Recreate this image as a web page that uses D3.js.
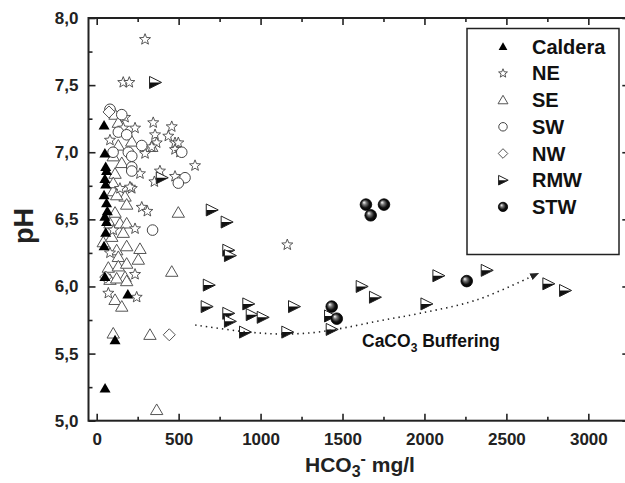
<!DOCTYPE html>
<html>
<head>
<meta charset="utf-8">
<script src="https://cdn.jsdelivr.net/npm/d3@7"></script>
<style>
body { margin: 0; background: #fff; }
text { font-family: Arial, "Liberation Sans", sans-serif; }
</style>
</head>
<body>
<svg id="chart" width="625" height="483"></svg>
<script>
// [HCO3 mg/l, pH]
const caldera = [[45, 7.20], [50, 6.99], [55, 6.89], [60, 6.86], [50, 6.80], [55, 6.76], [45, 6.68], [60, 6.62],
    [65, 6.56], [50, 6.52], [60, 6.48], [55, 6.40], [45, 6.30], [50, 6.07], [190, 5.94], [112, 5.60], [51, 5.24]];
const ne = [[295, 7.84], [162, 7.52], [199, 7.52], [345, 7.22], [356, 7.13], [366, 7.07], [336, 7.04], [295, 6.99],
    [458, 7.19], [437, 7.12], [478, 7.07], [498, 7.07], [478, 7.02], [508, 7.00], [600, 6.90], [478, 6.82],
    [386, 6.86], [352, 6.78], [264, 6.84], [162, 7.18], [234, 7.18], [81, 7.09], [173, 7.26], [214, 6.73],
    [203, 6.74], [275, 6.59], [309, 6.56], [234, 6.43], [81, 6.25], [234, 6.09], [71, 5.95], [244, 5.92],
    [142, 6.73], [101, 6.42], [1163, 6.31]];
const se = [[112, 7.28], [132, 7.22], [214, 7.08], [132, 7.05], [336, 7.04], [101, 6.97], [153, 6.92], [112, 6.84],
    [101, 6.71], [173, 6.67], [101, 6.77], [122, 6.68], [183, 6.61], [112, 6.55], [81, 6.47], [142, 6.47],
    [183, 6.47], [40, 6.33], [92, 6.37], [162, 6.40], [122, 6.27], [183, 6.30], [264, 6.28], [254, 6.20],
    [132, 6.22], [71, 6.14], [132, 6.15], [183, 6.17], [173, 6.07], [81, 6.05], [122, 6.06], [183, 6.04],
    [112, 5.90], [153, 5.85], [101, 5.65], [325, 5.64], [498, 6.55], [458, 6.11], [366, 5.08]];
const sw = [[81, 7.32], [153, 7.28], [132, 7.15], [183, 7.13], [275, 7.05], [193, 7.00], [214, 6.97], [214, 6.89],
    [214, 6.86], [519, 7.00], [539, 6.81], [498, 6.77], [341, 6.42], [100, 7.00]];
const nw = [[75, 7.30], [443, 5.64], [55, 6.07]];
const rmw = [[356, 7.52], [397, 6.81], [702, 6.57], [793, 6.48], [803, 6.27], [813, 6.23], [684, 6.01], [671, 5.85],
    [803, 5.80], [813, 5.74], [925, 5.87], [946, 5.79], [1013, 5.77], [905, 5.66], [1204, 5.85], [1163, 5.66],
    [1434, 5.68], [1617, 6.00], [1698, 5.92], [1424, 5.78], [2012, 5.87], [2085, 6.08], [2380, 6.12],
    [2756, 6.02], [2858, 5.97]];
const stw = [[1643, 6.61], [1753, 6.61], [1672, 6.53], [1434, 5.85], [1465, 5.76], [2258, 6.04]];
const buffering = [[601, 5.713], [905, 5.663], [1119, 5.646], [1320, 5.656], [1503, 5.69], [1729, 5.745],
    [1973, 5.80], [2319, 5.90], [2675, 6.086]];

const xTicks = [0, 500, 1000, 1500, 2000, 2500, 3000];
const xMinor = [250, 750, 1250, 1750, 2250, 2750, 3250];
const yTicks = [5.0, 5.5, 6.0, 6.5, 7.0, 7.5, 8.0];
const yMinor = [5.25, 5.75, 6.25, 6.75, 7.25, 7.75];

const series = [
    { name: 'SE', data: se, type: 'tri' },
    { name: 'NE', data: ne, type: 'star' },
    { name: 'SW', data: sw, type: 'circle' },
    { name: 'NW', data: nw, type: 'diamond' },
    { name: 'Caldera', data: caldera, type: 'filledTri' },
    { name: 'RMW', data: rmw, type: 'rmw' },
    { name: 'STW', data: stw, type: 'stw' }
];
const legendOrder = ['Caldera', 'NE', 'SE', 'SW', 'NW', 'RMW', 'STW'];

const svg = d3.select('#chart');
const x = d3.scaleLinear().domain([-50, 3250]).range([88.5, 629.3]);
const y = d3.scaleLinear().domain([5, 8]).range([420.7, 18]);

const defs = svg.append('defs');
const grad = defs.append('radialGradient').attr('id', 'ball')
    .attr('cx', '50%').attr('cy', '50%').attr('r', '55%').attr('fx', '32%').attr('fy', '30%');
grad.append('stop').attr('offset', '0%').attr('stop-color', '#fff');
grad.append('stop').attr('offset', '30%').attr('stop-color', '#777');
grad.append('stop').attr('offset', '65%').attr('stop-color', '#111');
grad.append('stop').attr('offset', '100%').attr('stop-color', '#000');
defs.append('marker').attr('id', 'arrow')
    .attr('viewBox', '0 0 10 10').attr('refX', 5).attr('refY', 5)
    .attr('markerWidth', 9).attr('markerHeight', 9)
    .attr('orient', 'auto').attr('markerUnits', 'userSpaceOnUse')
    .append('path').attr('d', 'M0,1L10,5L0,9Z').attr('fill', '#222');

function starPath(R, r) {
    const pts = d3.range(10).map(i => {
        const a = -Math.PI / 2 + i * Math.PI / 5;
        const rad = i % 2 ? r : R;
        return [rad * Math.cos(a), rad * Math.sin(a)];
    });
    return 'M' + pts.join('L') + 'Z';
}

function drawMarker(g, type, s) {
    if (type === 'tri') {
        g.append('path').attr('d', `M0,${-6 * s}L${6.2 * s},${4.6 * s}L${-6.2 * s},${4.6 * s}Z`)
            .attr('fill', '#fff').attr('stroke', '#555').attr('stroke-width', 1);
    } else if (type === 'filledTri') {
        g.append('path').attr('d', `M0,${-5.5 * s}L${5.5 * s},${4 * s}L${-5.5 * s},${4 * s}Z`)
            .attr('fill', '#000');
    } else if (type === 'star') {
        g.append('path').attr('d', starPath(5.8 * s, 2.5 * s))
            .attr('fill', '#fff').attr('stroke', '#444').attr('stroke-width', 0.9);
    } else if (type === 'circle') {
        g.append('circle').attr('r', 5.3 * s)
            .attr('fill', '#fff').attr('stroke', '#444').attr('stroke-width', 1);
    } else if (type === 'diamond') {
        g.append('path').attr('d', `M0,${-6 * s}L${6 * s},0L0,${6 * s}L${-6 * s},0Z`)
            .attr('fill', '#fff').attr('stroke', '#555').attr('stroke-width', 1);
    } else if (type === 'rmw') {
        g.append('path').attr('d', `M${-5.5 * s},${-6 * s}L${6.5 * s},0L${-5.5 * s},${6 * s}Z`)
            .attr('fill', '#fff');
        g.append('path').attr('d', `M${-5.5 * s},0L${6.5 * s},0L${-5.5 * s},${6 * s}Z`)
            .attr('fill', '#111');
        g.append('path').attr('d', `M${-5.5 * s},${-6 * s}L${6.5 * s},0L${-5.5 * s},${6 * s}Z`)
            .attr('fill', 'none').attr('stroke', '#222').attr('stroke-width', 1);
    } else if (type === 'stw') {
        g.append('circle').attr('r', 5.8 * s)
            .attr('fill', 'url(#ball)').attr('stroke', '#000').attr('stroke-width', 0.8);
    }
}

// points
series.forEach(serie => {
    svg.append('g').selectAll('g')
        .data(serie.data)
        .enter()
        .append('g')
        .attr('transform', d => `translate(${x(d[0])},${y(d[1])})`)
        .each(function () { drawMarker(d3.select(this), serie.type, 1); });
});

// buffering trend
svg.append('path')
    .datum(buffering)
    .attr('d', d3.line().x(d => x(d[0])).y(d => y(d[1])).curve(d3.curveCatmullRom))
    .attr('fill', 'none')
    .attr('stroke', '#222')
    .attr('stroke-width', 1.6)
    .attr('stroke-dasharray', '1.4,4')
    .attr('marker-end', 'url(#arrow)');

const note = svg.append('text')
    .attr('x', 362).attr('y', 346.5)
    .attr('font-size', 17.5).attr('font-weight', 'bold').attr('fill', '#111');
note.append('tspan').text('CaCO');
note.append('tspan').attr('font-size', 12).attr('dy', 5).text('3');
note.append('tspan').attr('dy', -5).text(' Buffering');

// axes, ticks pointing inward
const fmt = d => d3.format('.1f')(d).replace('.', ',');
const axisStyle = g => {
    g.select('.domain').remove();
    g.selectAll('line').attr('stroke', '#222').attr('stroke-width', 1.6);
};

svg.append('g').attr('transform', 'translate(0,420.7)')
    .call(d3.axisBottom(x).tickValues(xTicks).tickSize(-7).tickPadding(0).tickFormat(d3.format('d')))
    .call(axisStyle)
    .call(g => g.selectAll('text').attr('dy', 0).attr('y', 24)
        .attr('font-size', 17).attr('font-weight', 'bold').attr('fill', '#222')
        .attr('font-family', 'Arial, "Liberation Sans", sans-serif'));
svg.append('g').attr('transform', 'translate(0,420.7)')
    .call(d3.axisBottom(x).tickValues(xMinor).tickSize(-4).tickFormat(''))
    .call(axisStyle);
svg.append('g').attr('transform', 'translate(0,18)')
    .call(d3.axisTop(x).tickValues(xTicks).tickSize(-7).tickFormat(''))
    .call(axisStyle);
svg.append('g').attr('transform', 'translate(0,18)')
    .call(d3.axisTop(x).tickValues(xMinor).tickSize(-4).tickFormat(''))
    .call(axisStyle);

svg.append('g').attr('transform', 'translate(88.5,0)')
    .call(d3.axisLeft(y).tickValues(yTicks).tickSize(-7).tickPadding(10).tickFormat(fmt))
    .call(axisStyle)
    .call(g => g.selectAll('text')
        .attr('font-size', 17).attr('font-weight', 'bold').attr('fill', '#222')
        .attr('font-family', 'Arial, "Liberation Sans", sans-serif'));
svg.append('g').attr('transform', 'translate(88.5,0)')
    .call(d3.axisLeft(y).tickValues(yMinor).tickSize(-4).tickFormat(''))
    .call(axisStyle);
svg.append('g').attr('transform', 'translate(629.3,0)')
    .call(d3.axisRight(y).tickValues(yTicks).tickSize(-7).tickFormat(''))
    .call(axisStyle);
svg.append('g').attr('transform', 'translate(629.3,0)')
    .call(d3.axisRight(y).tickValues(yMinor).tickSize(-4).tickFormat(''))
    .call(axisStyle);

svg.append('rect')
    .attr('x', x(-50)).attr('y', y(8))
    .attr('width', x(3250) - x(-50)).attr('height', y(5) - y(8))
    .attr('fill', 'none').attr('stroke', '#222').attr('stroke-width', 2);

// axis titles
const xTitle = svg.append('text')
    .attr('x', 360).attr('y', 472)
    .attr('text-anchor', 'middle')
    .attr('font-size', 21).attr('font-weight', 'bold').attr('fill', '#222');
xTitle.append('tspan').text('HCO');
xTitle.append('tspan').attr('font-size', 16).attr('dy', 5).text('3');
xTitle.append('tspan').attr('font-size', 16).attr('dy', -13).text('-');
xTitle.append('tspan').attr('dy', 8).text(' mg/l');

svg.append('text')
    .attr('transform', 'translate(24,226) rotate(-90)')
    .attr('text-anchor', 'middle')
    .attr('dy', '0.35em')
    .attr('font-size', 27).attr('font-weight', 'bold').attr('fill', '#222')
    .text('pH');

// legend
const legend = svg.append('g');
legend.append('rect')
    .attr('x', 467).attr('y', 28.5).attr('width', 152).attr('height', 226)
    .attr('fill', '#fff').attr('stroke', '#222').attr('stroke-width', 1.5);
legendOrder.forEach((name, i) => {
    const serie = series.find(s => s.name === name);
    const row = legend.append('g').attr('transform', `translate(0,${46.7 + i * 26.7})`);
    drawMarker(row.append('g').attr('transform', 'translate(503,0)'), serie.type, 0.8);
    row.append('text')
        .attr('x', 532).attr('dy', '0.35em')
        .attr('font-size', 20).attr('font-weight', 'bold').attr('fill', '#111')
        .text(name);
});
</script>
</body>
</html>
